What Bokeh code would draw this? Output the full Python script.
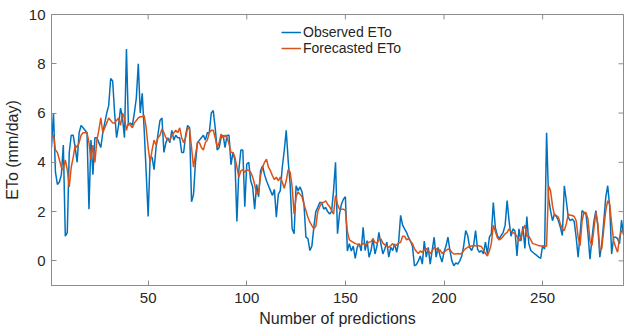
import math
from bokeh.plotting import figure
from bokeh.models import Range1d, FixedTicker, Legend, LegendItem
from bokeh.embed import file_html
from bokeh.resources import INLINE

observed_eto = [
    4.6, 6.0, 3.6, 3.1, 3.2, 3.5, 4.7, 1.0, 1.15, 4.4,
    5.1, 5.1, 4.6, 4.0, 5.2, 5.5, 5.4, 5.3, 5.2, 2.1,
    4.9, 3.5, 5.0, 5.0, 4.8, 4.6, 5.2, 5.6, 6.0, 6.3,
    7.4, 7.3, 6.0, 5.0, 5.5, 6.2, 5.8, 5.0, 8.6, 5.5,
    5.6, 5.5, 6.0, 6.6, 8.0, 6.0, 6.8, 5.3, 3.6, 1.8,
    4.2, 4.2, 3.7, 4.6, 5.15, 5.7, 5.8, 4.4, 4.8, 5.0,
    4.8, 5.3, 4.9, 5.1, 5.0, 5.0, 4.4, 4.4, 5.1, 5.5,
    5.4, 2.4, 2.7, 4.0, 4.8, 4.9, 5.0, 5.1, 4.9, 5.2,
    5.2, 6.0, 6.1, 5.4, 4.5, 4.6, 5.0, 5.1, 4.6, 5.1,
    5.1, 3.9, 4.4, 4.1, 1.6, 3.7, 4.5, 4.5, 2.2, 3.93,
    4.0, 3.25, 3.0, 2.1, 3.1, 2.6, 3.66, 3.86, 3.5, 3.25,
    3.05, 2.85, 2.65, 2.9, 1.77, 2.7, 2.85, 3.8, 4.47, 5.3,
    4.06, 3.1, 1.3, 1.1, 3.05, 2.85, 3.0, 2.8, 2.3, 0.96,
    0.9, 0.42, 0.6, 1.36, 2.0, 2.17, 2.37, 2.37, 2.1, 2.17,
    2.0, 1.9, 2.0, 2.85, 4.0, 1.1, 1.9, 2.3, 2.5, 2.6,
    0.4, 0.7, 0.4, 0.6, 0.1, 0.55, 0.7, 0.4, 1.36, 0.42,
    0.82, 0.15, 0.42, 0.9, 0.28, 0.6, 1.16, 0.69, 0.28, 0.49,
    0.76, 0.15, 0.55, 0.42, 0.69, 0.35, 0.76, 1.85, 1.45, 1.3,
    1.16, 0.95, 0.8, 0.6, -0.2, -0.15, 0.0, 0.2, -0.13, 0.8,
    0.15, 0.55, -0.13, 0.42, 0.96, 0.15, 0.55, 0.2, -0.05, 0.35,
    0.6, 0.96, 0.42, 0.0, -0.2, -0.08, -0.13, 0.0, 0.2, 0.62,
    1.23, 1.03, 0.55, 0.42, 0.62, 1.23, 0.48, 0.35, 0.42, 0.28,
    0.76, 0.28, 0.96, 1.09, 2.37, 1.36, 1.03, 0.89, 1.03, 1.16,
    1.45, 2.45, 1.6, 1.0, 1.3, 1.2, 0.2, 1.3, 0.8, 1.4,
    0.5, 1.8, 0.7, 0.42, 0.35, 0.28, 0.22, 0.15, 0.1, 0.62,
    0.48, 5.2, 2.58, 2.04, 1.63, 1.9, 1.8, 1.63, 1.36, 1.03,
    3.05, 2.44, 1.77, 1.63, 1.7, 1.6, 0.96, 0.15, 1.1, 2.04,
    1.95, 1.9, 1.1, 0.07, 0.9, 1.6, 2.04, 1.4, 0.15, 0.7,
    1.6, 2.58, 3.05, 2.2, 0.28, 0.96, 0.96, 0.9, 0.7, 1.65,
    1.05,
]

forecasted_eto = [
    5.0, 5.1, 4.5, 4.4, 4.1, 3.8, 3.7, 4.1, 3.7, 3.0,
    3.8, 4.2, 4.7, 4.6, 4.8, 5.1, 5.2, 5.2, 5.2, 4.8,
    4.1, 4.7, 4.0, 4.9, 5.3, 5.8, 5.2, 5.4, 5.6, 5.8,
    5.7, 5.6, 5.6, 5.7, 5.8, 5.5, 6.0, 5.8, 5.3, 5.6,
    5.5, 5.4, 5.6, 5.7, 5.8, 5.85, 5.85, 5.9, 5.4, 4.6,
    4.0, 4.5, 4.9, 4.7, 5.0, 5.1, 5.35, 5.2, 5.0, 4.9,
    4.9, 5.1, 5.2, 5.3, 5.2, 5.4, 5.0, 4.8, 5.0, 5.4,
    5.35, 4.6, 3.8, 4.3, 4.8, 4.8, 4.6, 4.5, 4.8, 4.9,
    5.2, 5.3, 5.3, 5.0, 4.6, 4.8, 5.15, 5.0, 5.1, 5.0,
    4.75, 4.4, 4.4, 4.2, 3.8, 3.4, 3.65, 3.7, 3.6, 3.7,
    3.66, 3.6, 3.4, 3.1, 2.7, 2.8, 3.46, 3.8, 4.0, 4.13,
    3.8, 3.66, 3.46, 3.3, 3.4, 3.25, 3.4, 3.2, 2.95, 3.25,
    3.7, 3.6, 3.0, 1.9, 2.6, 2.8, 2.7, 2.6, 2.3, 2.04,
    1.77, 1.57, 1.43, 1.3, 1.4, 2.0, 2.2, 2.37, 2.37, 2.44,
    2.3, 2.2, 2.04, 1.9, 2.65, 2.3, 2.1, 2.1, 2.1, 2.05,
    1.2, 0.85, 0.8, 0.75, 0.7, 0.68, 0.62, 0.65, 0.72, 0.62,
    0.7, 0.76, 0.78, 0.9, 0.75, 0.72, 0.85, 0.89, 0.72, 0.65,
    0.6, 0.55, 0.62, 0.7, 0.6, 0.65, 0.72, 0.75, 1.0, 1.0,
    0.85, 0.9, 0.8, 0.7, 0.5, 0.38, 0.3, 0.4, 0.35, 0.45,
    0.5, 0.4, 0.3, 0.4, 0.55, 0.5, 0.4, 0.45, 0.3, 0.35,
    0.42, 0.48, 0.45, 0.35, 0.28, 0.28, 0.3, 0.28, 0.3, 0.42,
    0.5, 0.55, 0.58, 0.6, 0.62, 0.6, 0.62, 0.6, 0.58, 0.45,
    0.3, 0.2, 0.4, 0.7, 1.45, 1.2, 0.95, 0.85, 0.9, 1.0,
    1.1, 1.16, 1.3, 1.2, 1.15, 1.1, 1.0, 0.8, 0.95, 1.25,
    1.45, 1.0, 1.0, 0.85, 0.7, 0.68, 0.65, 0.62, 0.6, 0.6,
    0.58, 0.6, 3.05, 2.85, 2.24, 1.84, 1.84, 1.77, 1.5, 1.3,
    1.23, 1.5, 1.9, 1.85, 1.84, 1.8, 1.63, 0.96, 0.62, 1.63,
    1.97, 1.95, 1.7, 0.82, 0.62, 1.3, 1.97, 1.5, 0.42, 0.5,
    1.3, 2.04, 2.44, 2.3, 1.5, 0.82, 0.56, 0.35, 0.96, 1.23,
    1.16,
]

prediction_index = list(range(1, len(observed_eto) + 1))
x_tick_values = [50, 100, 150, 200, 250]
y_tick_values = [0, 2, 4, 6, 8, 10]

FONT = "Liberation Sans"
TEXT = "#262626"
AXIS = "#8c8c8c"

x_range = Range1d(1, 291)
y_range = Range1d(-1, 10)

p = figure(width=624, height=329, output_backend="svg", toolbar_location=None,
           x_range=x_range, y_range=y_range,
           min_border_left=49, min_border_right=1, min_border_top=14,
           min_border_bottom=44,
           x_axis_label="Number of predictions", y_axis_label="ETo (mm/day)")
p.background_fill_color = "white"
p.border_fill_color = "white"
p.outline_line_color = AXIS
p.outline_line_width = 1
p.xgrid.visible = False
p.ygrid.visible = False

r_obs = p.line(prediction_index, observed_eto, line_color="#0072BD", line_width=1.5)
r_fc = p.line(prediction_index, forecasted_eto, line_color="#D95319", line_width=1.5)

# inward ticks on the top and right edges of the box (MATLAB style)
p.ray(x=[x_range.end] * len(y_tick_values), y=y_tick_values, length=5,
      length_units="screen", angle=math.pi, line_color=AXIS, line_width=1)
p.ray(x=x_tick_values, y=[y_range.end] * len(x_tick_values), length=5,
      length_units="screen", angle=-math.pi / 2, line_color=AXIS, line_width=1)

for ax, ticks in ((p.xaxis[0], x_tick_values), (p.yaxis[0], y_tick_values)):
    ax.ticker = FixedTicker(ticks=ticks)
    ax.axis_line_color = AXIS
    ax.axis_line_width = 1
    ax.major_tick_line_color = AXIS
    ax.major_tick_in = 5
    ax.major_tick_out = 0
    ax.minor_tick_in = 0
    ax.minor_tick_out = 0
    ax.minor_tick_line_color = None
    ax.major_label_text_font = FONT
    ax.major_label_text_font_size = "15px"
    ax.major_label_text_color = TEXT
    ax.axis_label_text_font = FONT
    ax.axis_label_text_font_style = "normal"
    ax.axis_label_text_color = TEXT
    ax.axis_label_text_font_size = "16px"

p.xaxis[0].major_label_standoff = 7
p.xaxis[0].axis_label_standoff = 4
p.yaxis[0].major_label_standoff = 6
p.yaxis[0].axis_label_standoff = 5

legend = Legend(items=[LegendItem(label="Observed ETo", renderers=[r_obs]),
                       LegendItem(label="Forecasted ETo", renderers=[r_fc])],
                location=(230, 229))
legend.border_line_color = None
legend.background_fill_alpha = 0
legend.margin = 0
legend.padding = 0
legend.spacing = 0
legend.glyph_width = 20
legend.glyph_height = 16
legend.label_height = 16
legend.label_standoff = 2
legend.label_text_font = FONT
legend.label_text_font_size = "14px"
legend.label_text_color = TEXT
p.add_layout(legend)

open("out.html", "w").write(file_html(p, INLINE))
